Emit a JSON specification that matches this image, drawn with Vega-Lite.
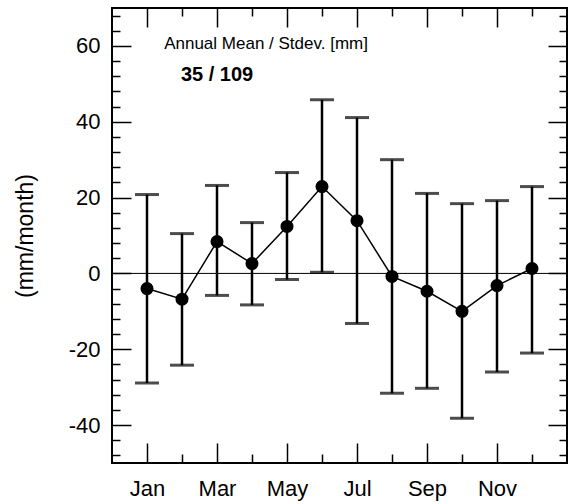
{
  "$schema": "https://vega.github.io/schema/vega-lite/v6.json",
  "width": 455,
  "height": 455,
  "autosize": "none",
  "padding": {"left": 112, "top": 8, "right": 5, "bottom": 41},
  "background": "white",
  "config": {
    "view": {"stroke": "black", "strokeWidth": 2},
    "font": "Liberation Sans",
    "axis": {
      "domain": false,
      "zindex": 1,
      "tickColor": "black",
      "tickWidth": 1.5,
      "labelColor": "black",
      "labelFont": "Liberation Sans",
      "labelFontSize": 22,
      "grid": false,
      "titleColor": "black",
      "labelOverlap": false,
      "labelBound": false,
      "labelFlush": false
    }
  },
  "data": {
    "values": [
      {"month": 1, "mean": -4.0, "low": -28.9, "high": 20.8},
      {"month": 2, "mean": -6.8, "low": -24.2, "high": 10.5},
      {"month": 3, "mean": 8.4, "low": -5.8, "high": 23.2},
      {"month": 4, "mean": 2.6, "low": -8.3, "high": 13.4},
      {"month": 5, "mean": 12.4, "low": -1.6, "high": 26.6},
      {"month": 6, "mean": 22.9, "low": 0.3, "high": 45.8},
      {"month": 7, "mean": 13.9, "low": -13.2, "high": 41.1},
      {"month": 8, "mean": -0.8, "low": -31.6, "high": 30.0},
      {"month": 9, "mean": -4.7, "low": -30.3, "high": 21.1},
      {"month": 10, "mean": -10.0, "low": -38.2, "high": 18.4},
      {"month": 11, "mean": -3.2, "low": -26.0, "high": 19.2},
      {"month": 12, "mean": 1.3, "low": -21.0, "high": 22.9}
    ]
  },
  "resolve": {"axis": {"x": "independent", "y": "independent"}},
  "layer": [
    {
      "data": {"values": [{}]},
      "mark": {"type": "rule", "color": "black", "strokeWidth": 1},
      "encoding": {
        "y": {"datum": 0, "type": "quantitative", "scale": {"domain": [-50, 70], "nice": false, "zero": false}, "axis": null}
      }
    },
    {
      "mark": {"type": "rule", "color": "black", "strokeWidth": 2.5},
      "encoding": {
        "x": {
          "field": "month", "type": "quantitative",
          "scale": {"domain": [0, 13], "nice": false, "zero": false},
          "axis": {
            "orient": "bottom",
            "values": [1, 3, 5, 7, 9, 11],
            "labelExpr": "['','Jan','Feb','Mar','Apr','May','Jun','Jul','Aug','Sep','Oct','Nov','Dec'][datum.value]",
            "offset": -20,
            "tickSize": 20,
            "labelPadding": 15,
            "title": null
          }
        },
        "y": {
          "field": "low", "type": "quantitative",
          "scale": {"domain": [-50, 70], "nice": false, "zero": false},
          "axis": {
            "orient": "left",
            "values": [-40, -20, 0, 20, 40, 60],
            "labelExpr": "'' + datum.value",
            "offset": -19,
            "tickSize": 19,
            "labelPadding": 12,
            "title": "(mm/month)",
            "titleFontSize": 23,
            "titleFontWeight": "normal",
            "titleFont": "Liberation Sans",
            "titlePadding": 31
          }
        },
        "y2": {"field": "high"}
      }
    },
    {
      "mark": {"type": "tick", "color": "black", "orient": "horizontal", "size": 24, "thickness": 3},
      "encoding": {
        "x": {
          "field": "month", "type": "quantitative",
          "scale": {"domain": [0, 13], "nice": false, "zero": false},
          "axis": {
            "orient": "bottom",
            "values": [2, 4, 6, 8, 10, 12],
            "labels": false,
            "offset": -9,
            "tickSize": 9,
            "title": null
          }
        },
        "y": {
          "field": "low", "type": "quantitative",
          "scale": {"domain": [-50, 70], "nice": false, "zero": false},
          "axis": {
            "orient": "left",
            "values": [-48, -44, -36, -32, -28, -24, -16, -12, -8, -4, 4, 8, 12, 16, 24, 28, 32, 36, 44, 48, 52, 56, 64, 68],
            "labels": false,
            "offset": -8,
            "tickSize": 8,
            "title": null
          }
        }
      }
    },
    {
      "mark": {"type": "tick", "color": "black", "orient": "horizontal", "size": 24, "thickness": 3},
      "encoding": {
        "x": {
          "field": "month", "type": "quantitative",
          "scale": {"domain": [0, 13], "nice": false, "zero": false},
          "axis": {
            "orient": "top",
            "values": [1, 3, 5, 7, 9, 11],
            "labels": false,
            "offset": -19,
            "tickSize": 19,
            "title": null
          }
        },
        "y": {
          "field": "high", "type": "quantitative",
          "scale": {"domain": [-50, 70], "nice": false, "zero": false},
          "axis": {
            "orient": "right",
            "values": [-40, -20, 0, 20, 40, 60],
            "labels": false,
            "offset": -19,
            "tickSize": 19,
            "title": null
          }
        }
      }
    },
    {
      "mark": {"type": "line", "color": "black", "strokeWidth": 1.5},
      "encoding": {
        "x": {
          "field": "month", "type": "quantitative",
          "scale": {"domain": [0, 13], "nice": false, "zero": false},
          "axis": {
            "orient": "top",
            "values": [2, 4, 6, 8, 10, 12],
            "labels": false,
            "offset": -8,
            "tickSize": 8,
            "title": null
          }
        },
        "y": {
          "field": "mean", "type": "quantitative",
          "scale": {"domain": [-50, 70], "nice": false, "zero": false},
          "axis": {
            "orient": "right",
            "values": [-48, -44, -36, -32, -28, -24, -16, -12, -8, -4, 4, 8, 12, 16, 24, 28, 32, 36, 44, 48, 52, 56, 64, 68],
            "labels": false,
            "offset": -8,
            "tickSize": 8,
            "title": null
          }
        }
      }
    },
    {
      "mark": {"type": "circle", "color": "black", "opacity": 1, "size": 170},
      "encoding": {
        "x": {"field": "month", "type": "quantitative", "scale": {"domain": [0, 13], "nice": false, "zero": false}, "axis": null},
        "y": {"field": "mean", "type": "quantitative", "scale": {"domain": [-50, 70], "nice": false, "zero": false}, "axis": null}
      }
    },
    {
      "data": {"values": [{"month": 1.49, "value": 60.5, "label": "Annual Mean / Stdev. [mm]"}]},
      "mark": {"type": "text", "align": "left", "baseline": "middle", "fontSize": 17, "font": "Liberation Sans", "color": "black"},
      "encoding": {
        "x": {"field": "month", "type": "quantitative", "scale": {"domain": [0, 13], "nice": false, "zero": false}, "axis": null},
        "y": {"field": "value", "type": "quantitative", "scale": {"domain": [-50, 70], "nice": false, "zero": false}, "axis": null},
        "text": {"field": "label"}
      }
    },
    {
      "data": {"values": [{"month": 1.97, "value": 52.4, "label": "35 / 109"}]},
      "mark": {"type": "text", "align": "left", "baseline": "middle", "fontSize": 20, "fontWeight": "bold", "font": "Liberation Sans", "color": "black"},
      "encoding": {
        "x": {"field": "month", "type": "quantitative", "scale": {"domain": [0, 13], "nice": false, "zero": false}, "axis": null},
        "y": {"field": "value", "type": "quantitative", "scale": {"domain": [-50, 70], "nice": false, "zero": false}, "axis": null},
        "text": {"field": "label"}
      }
    }
  ]
}
